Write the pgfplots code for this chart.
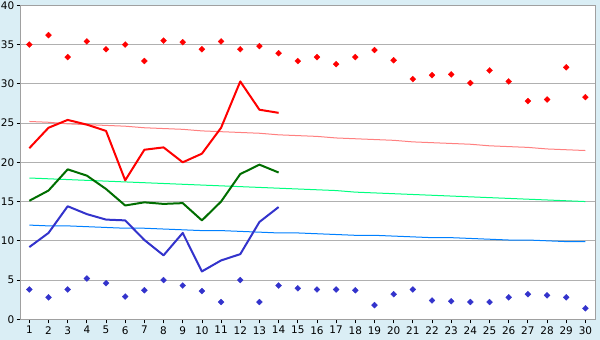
\documentclass[border=0pt]{standalone}
\usepackage{pgfplots}
\pgfplotsset{compat=1.18}
\usepackage{fontspec}
\setmainfont{DejaVu Sans}
\definecolor{bgblue}{RGB}{218,238,245}
\definecolor{gridgray}{RGB}{176,176,176}
\definecolor{axgray}{RGB}{160,160,160}
\definecolor{rmax}{RGB}{255,0,0}
\definecolor{rnorm}{RGB}{255,128,128}
\definecolor{gmean}{RGB}{0,110,0}
\definecolor{gnorm}{RGB}{0,255,128}
\definecolor{bmin}{RGB}{51,51,204}
\definecolor{bnorm}{RGB}{0,128,255}
\begin{document}
\begin{tikzpicture}
\useasboundingbox (0,0) rectangle (600bp,340bp);
\fill[bgblue] (0,0) rectangle (600bp,340bp);
\begin{axis}[
  at={(20.7bp,20.7bp)}, anchor=south west,
  scale only axis, width=574.3bp, height=314bp,
  xmin=0.55, xmax=30.5, ymin=0, ymax=40,
  axis background/.style={fill=white},
  axis line style={axgray, line width=1bp},
  xtick={1,...,30}, ytick={0,5,...,40},
  ymajorgrids, grid style={gridgray, line width=1bp},
  tick align=outside, major tick length=4bp,
  tick style={black, line width=0.8bp},
  xtick pos=bottom, ytick pos=left,
  /pgf/number format/assume math mode=true,
  tick label style={font=\fontsize{10.5}{13}\selectfont},
  xticklabel style={yshift=0.5bp},
  yticklabel style={xshift=1bp},
  clip=false,
  recmark/.style={only marks, mark=square*, mark size=2.1bp, mark options={rotate=45, line width=0.3bp}},
]
% record highs
\addplot[recmark, color=rmax] coordinates {
(1,35.0)(2,36.2)(3,33.4)(4,35.4)(5,34.4)(6,35.0)(7,32.9)(8,35.5)(9,35.3)(10,34.4)
(11,35.4)(12,34.4)(13,34.8)(14,33.9)(15,32.9)(16,33.4)(17,32.5)(18,33.4)(19,34.3)(20,33.0)
(21,30.6)(22,31.1)(23,31.2)(24,30.1)(25,31.7)(26,30.3)(27,27.8)(28,28.0)(29,32.1)(30,28.3)};
% normal max
\addplot[rnorm, line width=1bp] coordinates {
(1,25.2)(2,25.1)(3,24.9)(4,24.8)(5,24.7)(6,24.6)(7,24.4)(8,24.3)(9,24.2)(10,24.0)
(11,23.9)(12,23.8)(13,23.7)(14,23.5)(15,23.4)(16,23.3)(17,23.1)(18,23.0)(19,22.9)(20,22.8)
(21,22.6)(22,22.5)(23,22.4)(24,22.3)(25,22.1)(26,22.0)(27,21.9)(28,21.7)(29,21.6)(30,21.5)};
% normal mean
\addplot[gnorm, line width=1bp] coordinates {
(1,18.0)(2,17.9)(3,17.8)(4,17.7)(5,17.6)(6,17.5)(7,17.4)(8,17.3)(9,17.2)(10,17.1)
(11,17.0)(12,16.9)(13,16.8)(14,16.7)(15,16.6)(16,16.5)(17,16.4)(18,16.2)(19,16.1)(20,16.0)
(21,15.9)(22,15.8)(23,15.7)(24,15.6)(25,15.5)(26,15.4)(27,15.3)(28,15.2)(29,15.1)(30,15.0)};
% normal min
\addplot[bnorm, line width=1bp] coordinates {
(1,12.0)(2,11.9)(3,11.9)(4,11.8)(5,11.7)(6,11.6)(7,11.6)(8,11.5)(9,11.4)(10,11.3)
(11,11.3)(12,11.2)(13,11.1)(14,11.0)(15,11.0)(16,10.9)(17,10.8)(18,10.7)(19,10.7)(20,10.6)
(21,10.5)(22,10.4)(23,10.4)(24,10.3)(25,10.2)(26,10.1)(27,10.1)(28,10.0)(29,9.9)(30,9.9)};
% actual max
\addplot[rmax, line width=2bp, line join=round] coordinates {
(1,21.8)(2,24.4)(3,25.4)(4,24.8)(5,24.0)(6,17.7)(7,21.6)(8,21.9)(9,20.0)(10,21.1)
(11,24.4)(12,30.3)(13,26.7)(14,26.3)};
% actual mean
\addplot[gmean, line width=2bp, line join=round] coordinates {
(1,15.1)(2,16.4)(3,19.1)(4,18.3)(5,16.6)(6,14.5)(7,14.9)(8,14.7)(9,14.8)(10,12.6)
(11,15.0)(12,18.5)(13,19.7)(14,18.7)};
% actual min
\addplot[bmin, line width=2bp, line join=round] coordinates {
(1,9.2)(2,11.0)(3,14.4)(4,13.4)(5,12.7)(6,12.6)(7,10.1)(8,8.15)(9,11.0)(10,6.1)
(11,7.5)(12,8.3)(13,12.4)(14,14.3)};
% record lows
\addplot[recmark, color=bmin] coordinates {
(1,3.8)(2,2.8)(3,3.8)(4,5.2)(5,4.6)(6,2.9)(7,3.7)(8,5.0)(9,4.3)(10,3.6)
(11,2.2)(12,5.0)(13,2.2)(14,4.3)(15,3.95)(16,3.8)(17,3.8)(18,3.7)(19,1.8)(20,3.2)
(21,3.8)(22,2.4)(23,2.3)(24,2.2)(25,2.2)(26,2.8)(27,3.2)(28,3.05)(29,2.8)(30,1.4)};
\end{axis}
\end{tikzpicture}
\end{document}
